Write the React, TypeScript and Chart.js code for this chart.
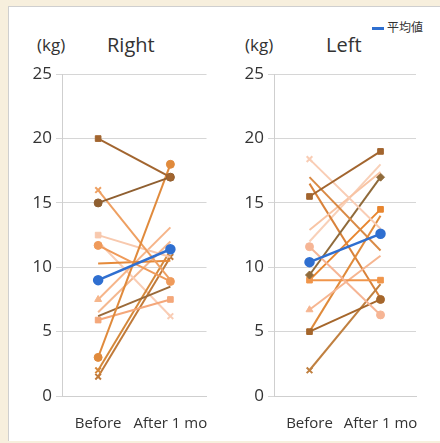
import React, { useEffect, useRef } from "react";
import { Chart, registerables } from "chart.js";

Chart.register(...registerables);

const categories = ["Before", "After 1 mo"];
const yTicks = [0, 5, 10, 15, 20, 25];

// Right hand: per-subject values [before, after]
const rightBefore = [20, 15, 3, 16, 12.5, 11.7, 10.3, 7.5, 6.2, 5.9, 2.0, 1.5, 12, 6.5];
const rightAfter = [17, 17, 18, 9, 10.8, 8.9, 10.5, 13.1, 8.5, 7.5, 11.3, 10.8, 6.2, 12];
const rightMean = [9.0, 11.4];

// Left hand
const leftBefore = [15.5, 18.4, 17, 12.9, 11.6, 9.4, 9.0, 9.0, 6.7, 5, 5, 2, 16.5, 12];
const leftAfter = [19, 13, 11.3, 17.4, 6.3, 17, 9.0, 14.5, 10.9, 7.5, 14, 8.7, 7.6, 18];
const leftMean = [10.4, 12.6];

const rightColors = [
  "#a2652f", "#8f5f30", "#e08a3c", "#eea062", "#f8c9ae", "#ef9a5a", "#e58a3a",
  "#f6b58a", "#9a6a3a", "#f4a77a", "#d5883a", "#c07a3a", "#f9cdb5", "#f4b890",
];
const leftColors = [
  "#a2652f", "#f9cdb5", "#d98a45", "#f8c4a4", "#f6b595", "#8f6a3a", "#f0954a",
  "#e8862f", "#f6b590", "#a5662b", "#e08a3a", "#c08040", "#d9823a", "#f8d0b8",
];
// [before marker, after marker]
const rightMarkers = [["rect", "rect"], ["circle", "circle"], ["circle", "circle"], ["crossRot", "none"],
  ["rect", "none"], ["circle", "circle"], ["none", "none"], ["triangle", "none"], ["none", "none"],
  ["rect", "rect"], ["crossRot", "crossRot"], ["crossRot", "crossRot"], ["none", "crossRot"], ["none", "none"]];
const leftMarkers = [["rect", "rect"], ["crossRot", "none"], ["none", "none"], ["none", "none"],
  ["circle", "circle"], ["rectRot", "rectRot"], ["rect", "rect"], ["none", "rect"], ["triangle", "none"],
  ["rect", "circle"], ["none", "none"], ["crossRot", "none"], ["none", "none"], ["none", "none"]];

const meanLabel = "平均値";
const meanColor = "#2f6fd0";

function buildDatasets(before: number[], after: number[], mean: number[], markers: string[][], colors: string[]) {
  const ds: any[] = [
    {
      label: meanLabel,
      data: mean,
      borderColor: meanColor,
      backgroundColor: meanColor,
      borderWidth: 2.5,
      pointRadius: 4,
      pointStyle: "circle",
    },
  ];
  before.forEach((b, i) => {
    const m = markers[i];
    ds.push({
      label: "S" + (i + 1),
      data: [b, after[i]],
      borderColor: colors[i],
      backgroundColor: colors[i],
      borderWidth: 2,
      pointRadius: m.map((s) => (s === "none" ? 0 : 4)),
      pointStyle: m.map((s) => (s === "none" ? "circle" : s)),
      pointBorderWidth: m.map((s) => (s === "crossRot" ? 2 : 1)),
    });
  });
  return ds;
}

function makeOptions(padRight: number): any {
  return {
    responsive: false,
    animation: false,
    layout: { padding: { top: 7, right: padRight, left: 0, bottom: 0 } },
    plugins: { legend: { display: false }, tooltip: { enabled: false } },
    scales: {
      x: {
        type: "category",
        offset: true,
        grid: { display: false },
        border: { display: true, color: "#cfcfcf" },
        ticks: { color: "#333", font: { family: "Open Sans", size: 15 }, padding: 11, maxRotation: 0, minRotation: 0, autoSkip: false },
        afterFit: (s: any) => { s.height = 40; },
      },
      y: {
        min: 0,
        max: 25,
        afterBuildTicks: (s: any) => { s.ticks = yTicks.map((v) => ({ value: v })); },
        grid: { color: "#d6d6d6", tickLength: 6, lineWidth: 1 },
        border: { display: true, color: "#cfcfcf" },
        ticks: { color: "#333", font: { family: "Open Sans", size: 17 }, padding: 4 },
        afterFit: (s: any) => { s.width = 50; },
      },
    },
  };
}

function Panel(props: { before: number[]; after: number[]; mean: number[]; markers: string[][]; colors: string[]; left: number; width: number; padRight: number }) {
  const ref = useRef<HTMLCanvasElement>(null);
  useEffect(() => {
    if (!ref.current) return;
    const chart = new Chart(ref.current, {
      type: "line",
      data: { labels: categories, datasets: buildDatasets(props.before, props.after, props.mean, props.markers, props.colors) },
      options: makeOptions(props.padRight),
    });
    return () => chart.destroy();
  }, []);
  return (
    <canvas
      ref={ref}
      width={props.width}
      height={376}
      style={{ position: "absolute", left: props.left, top: 60, width: props.width, height: 376 }}
    />
  );
}

export default function App() {
  const txt: React.CSSProperties = { position: "absolute", color: "#333", fontFamily: "Open Sans", whiteSpace: "nowrap", lineHeight: 1 };
  return (
    <div style={{ position: "fixed", left: 0, top: 0, width: 440, height: 443, background: "#f7efdd" }}>
      <div style={{ position: "absolute", left: 8, top: 6, width: 432, height: 435, background: "#fff", borderLeft: "1px solid #cfcfcf", borderTop: "1px solid #cfcfcf", boxSizing: "border-box" }} />
      <div style={{ ...txt, left: 37, top: 36, fontSize: 17 }}>(kg)</div>
      <div style={{ ...txt, left: 107, top: 35, fontSize: 20 }}>Right</div>
      <div style={{ ...txt, left: 245, top: 36, fontSize: 17 }}>(kg)</div>
      <div style={{ ...txt, left: 326, top: 35, fontSize: 20 }}>Left</div>
      <div style={{ position: "absolute", left: 372, top: 27, width: 12, height: 2.5, background: meanColor }} />
      <div style={{ ...txt, left: 387, top: 21, fontSize: 12, fontFamily: "Noto Sans CJK JP" }}>{meanLabel}</div>
      <Panel before={rightBefore} after={rightAfter} mean={rightMean} markers={rightMarkers} colors={rightColors} left={12} width={208} padRight={7} />
      <Panel before={leftBefore} after={leftAfter} mean={leftMean} markers={leftMarkers} colors={leftColors} left={224} width={206} padRight={3} />
    </div>
  );
}
